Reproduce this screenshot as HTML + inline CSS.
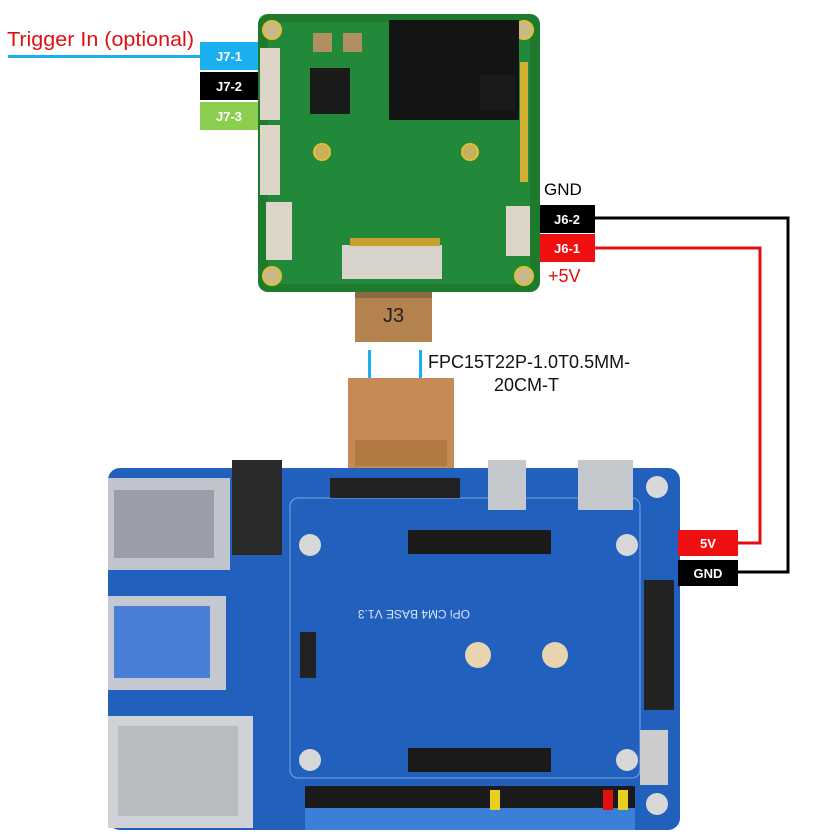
<!DOCTYPE html>
<html><head><style>
body{margin:0;background:#fff;width:820px;height:834px;overflow:hidden}
svg{display:block}
text{font-family:"Liberation Sans",sans-serif}
</style></head><body>
<svg width="820" height="834" viewBox="0 0 820 834">
<rect x="258" y="14" width="282" height="278" rx="10" fill="#1e7a2c"/>
<rect x="268" y="22" width="262" height="262" rx="6" fill="#23893a"/>
<circle cx="272" cy="30" r="9" fill="#c8b88a" stroke="#e0c030" stroke-width="2"/>
<circle cx="524" cy="30" r="9" fill="#c8b88a" stroke="#e0c030" stroke-width="2"/>
<circle cx="272" cy="276" r="9" fill="#c8b88a" stroke="#e0c030" stroke-width="2"/>
<circle cx="524" cy="276" r="9" fill="#c8b88a" stroke="#e0c030" stroke-width="2"/>
<circle cx="322" cy="152" r="8" fill="#c8b060" stroke="#e0c030" stroke-width="2"/>
<circle cx="470" cy="152" r="8" fill="#c8b060" stroke="#e0c030" stroke-width="2"/>
<rect x="389" y="20" width="130" height="100" fill="#141414"/>
<rect x="310" y="68" width="40" height="46" fill="#1a1a1a"/>
<rect x="480" y="75" width="35" height="35" fill="#1a1a1a"/>
<rect x="313" y="33" width="19" height="19" fill="#b09060"/>
<rect x="343" y="33" width="19" height="19" fill="#b09060"/>
<rect x="260" y="48" width="20" height="72" fill="#ddd6c8"/>
<rect x="260" y="125" width="20" height="70" fill="#ddd6c8"/>
<rect x="266" y="202" width="26" height="58" fill="#ddd6c8"/>
<rect x="506" y="206" width="24" height="50" fill="#ddd6c8"/>
<rect x="342" y="245" width="100" height="34" fill="#d8d4cc"/>
<rect x="350" y="238" width="90" height="8" fill="#c8a030"/>
<rect x="520" y="62" width="8" height="120" fill="#d0b030"/>
<rect x="355" y="292" width="77" height="50" fill="#b5834e"/>
<rect x="355" y="292" width="77" height="6" fill="#8a6a40"/>
<text x="383" y="322" font-size="20" fill="#222">J3</text>
<rect x="368" y="350" width="3" height="28" fill="#1ab0f0"/>
<rect x="419" y="350" width="3" height="28" fill="#1ab0f0"/>
<text x="428" y="368" font-size="18" fill="#111">FPC15T22P-1.0T0.5MM-</text>
<text x="494" y="391" font-size="18" fill="#111">20CM-T</text>
<rect x="348" y="378" width="106" height="90" fill="#c58a55"/>
<rect x="355" y="440" width="92" height="26" fill="#b07a40"/>
<text x="7" y="46" font-size="20" fill="#e01010" textLength="187" lengthAdjust="spacingAndGlyphs">Trigger In (optional)</text>
<rect x="8" y="55" width="192" height="3" fill="#1ab0f0"/>
<rect x="200" y="42" width="58" height="28" fill="#1ab0f0"/>
<rect x="200" y="72" width="58" height="28" fill="#000"/>
<rect x="200" y="102" width="58" height="28" fill="#8ccf50"/>
<text x="229" y="61" font-size="13" font-weight="bold" fill="#fff" text-anchor="middle">J7-1</text>
<text x="229" y="91" font-size="13" font-weight="bold" fill="#fff" text-anchor="middle">J7-2</text>
<text x="229" y="121" font-size="13" font-weight="bold" fill="#fff" text-anchor="middle">J7-3</text>
<text x="544" y="195" font-size="17" fill="#000">GND</text>
<rect x="540" y="205" width="55" height="28" fill="#000"/>
<rect x="540" y="234" width="55" height="28" fill="#ee1010"/>
<text x="567" y="224" font-size="13" font-weight="bold" fill="#fff" text-anchor="middle">J6-2</text>
<text x="567" y="253" font-size="13" font-weight="bold" fill="#fff" text-anchor="middle">J6-1</text>
<text x="548" y="282" font-size="18" fill="#e01010">+5V</text>
<polyline points="595,218 788,218 788,572 738,572" fill="none" stroke="#000" stroke-width="3"/>
<polyline points="595,248 760,248 760,543 738,543" fill="none" stroke="#e01010" stroke-width="3"/>
<rect x="108" y="468" width="572" height="362" rx="12" fill="#2160bd"/>
<rect x="290" y="498" width="350" height="280" rx="8" fill="none" stroke="#7aa8e0" stroke-width="1"/>
<rect x="108" y="478" width="122" height="92" fill="#c0c4cc"/>
<rect x="114" y="490" width="100" height="68" fill="#9a9ea8"/>
<rect x="108" y="596" width="118" height="94" fill="#c4c8d0"/>
<rect x="114" y="606" width="96" height="72" fill="#4a7fd8"/>
<rect x="108" y="716" width="145" height="112" fill="#cfd2d6"/>
<rect x="118" y="726" width="120" height="90" fill="#b8bcc0"/>
<rect x="232" y="460" width="50" height="95" fill="#2a2a2a"/>
<rect x="330" y="478" width="130" height="20" fill="#222"/>
<rect x="488" y="460" width="38" height="50" fill="#c4c8cc"/>
<rect x="578" y="460" width="55" height="50" fill="#c4c8cc"/>
<rect x="408" y="530" width="143" height="24" fill="#1a1a1a"/>
<rect x="408" y="748" width="143" height="24" fill="#1a1a1a"/>
<rect x="300" y="632" width="16" height="46" fill="#222"/>
<rect x="644" y="580" width="30" height="130" fill="#222"/>
<circle cx="478" cy="655" r="13" fill="#e8d4b0"/>
<circle cx="555" cy="655" r="13" fill="#e8d4b0"/>
<circle cx="310" cy="545" r="11" fill="#d8d8d8"/>
<circle cx="627" cy="545" r="11" fill="#d8d8d8"/>
<circle cx="310" cy="760" r="11" fill="#d8d8d8"/>
<circle cx="627" cy="760" r="11" fill="#d8d8d8"/>
<circle cx="657" cy="487" r="11" fill="#d8d8d8"/>
<circle cx="657" cy="804" r="11" fill="#d8d8d8"/>
<rect x="305" y="786" width="330" height="44" fill="#1a1a1a"/>
<rect x="305" y="808" width="330" height="22" fill="#3c7fd8"/>
<rect x="490" y="790" width="10" height="20" fill="#e8d020"/>
<rect x="603" y="790" width="10" height="20" fill="#e01010"/>
<rect x="618" y="790" width="10" height="20" fill="#e8d020"/>
<rect x="640" y="730" width="28" height="55" fill="#ccc"/>
<text x="470" y="610" font-size="12" fill="#d8e4f8" transform="rotate(180 470 610)">OPi CM4 BASE V1.3</text>
<rect x="678" y="530" width="60" height="26" fill="#ee1010"/>
<rect x="678" y="560" width="60" height="26" fill="#000"/>
<text x="708" y="548" font-size="13" font-weight="bold" fill="#fff" text-anchor="middle">5V</text>
<text x="708" y="578" font-size="13" font-weight="bold" fill="#fff" text-anchor="middle">GND</text>
</svg>
</body></html>
